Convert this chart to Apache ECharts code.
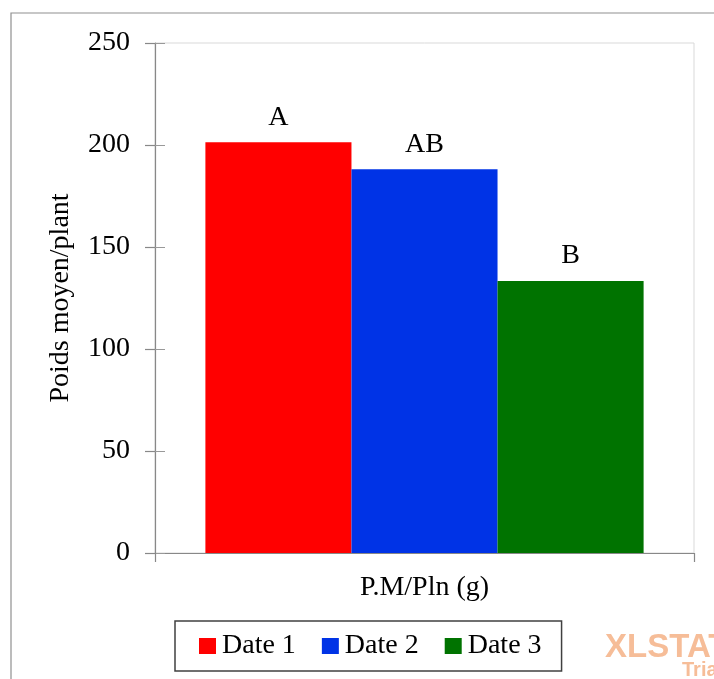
<!DOCTYPE html>
<html>
<head>
<meta charset="utf-8">
<style>
  html, body { margin: 0; padding: 0; background: #fff; }
  #chart { width: 714px; height: 679px; }
</style>
<script src="https://cdn.jsdelivr.net/npm/echarts@6/dist/echarts.min.js"></script>
</head>
<body>
<div id="chart"></div>
<script>
const categories = ['P.M/Pln (g)'];
const seriesNames = ['Date 1', 'Date 2', 'Date 3'];
const seriesValues = [201.3, 188.1, 133.3];
const groupLetters = ['A', 'AB', 'B'];
const seriesColors = ['#ff0000', '#0033e6', '#007300'];
const yTicks = { min: 0, max: 250, interval: 50 };

const FONT = '"Liberation Serif", "Times New Roman", serif';
const chart = echarts.init(document.getElementById('chart'), null, { renderer: 'canvas' });

const series = seriesNames.map((name, i) => ({
  name: name,
  type: 'bar',
  data: [seriesValues[i]],
  itemStyle: { color: seriesColors[i] },
  barGap: '0%',
  barCategoryGap: '18.7%',
  label: {
    show: true,
    position: 'top',
    distance: 11,
    formatter: () => groupLetters[i],
    fontFamily: FONT,
    fontSize: 28,
    color: '#000'
  },
  emphasis: { disabled: true }
}));

chart.setOption({
  animation: false,
  backgroundColor: '#fff',
  graphic: [
    { type: 'rect', shape: { x: 11, y: 13, width: 760, height: 720 },
      style: { fill: 'none', stroke: '#909090', lineWidth: 1.2 }, z: -1 },
    { type: 'text', left: 605, top: 631,
      style: { text: 'XLSTAT', font: 'bold 33px "Liberation Sans", Arial, sans-serif', fill: '#f6bd98' } },
    { type: 'text', left: 682, top: 660,
      style: { text: 'Trial', font: 'bold 20px "Liberation Sans", Arial, sans-serif', fill: '#f6bd98' } }
  ],
  grid: {
    left: 155, right: 20, top: 43, bottom: 126,
    show: true, borderColor: '#d9d9d9', borderWidth: 1, backgroundColor: 'transparent'
  },
  legend: {
    data: seriesNames,
    left: 175, top: 621,
    orient: 'horizontal',
    itemWidth: 17, itemHeight: 16, itemGap: 26,
    icon: 'rect',
    padding: [11, 20, 11, 24],
    borderColor: '#404040', borderWidth: 1.5,
    textStyle: { fontFamily: FONT, fontSize: 28, color: '#000', padding: [0, 0, 0, 1] }
  },
  xAxis: {
    type: 'category',
    data: categories,
    name: categories[0],
    nameLocation: 'middle',
    nameGap: 21,
    nameTextStyle: { fontFamily: FONT, fontSize: 28, color: '#000' },
    axisLine: { show: true, lineStyle: { color: '#888', width: 1.2 } },
    axisTick: { show: true, length: 9, alignWithLabel: false, lineStyle: { color: '#888', width: 1.2 } },
    axisLabel: { show: false }
  },
  yAxis: [
    {
      type: 'value',
      min: yTicks.min, max: yTicks.max, interval: yTicks.interval,
      name: 'Poids moyen/plant',
      nameLocation: 'middle',
      nameGap: 80,
      nameTextStyle: { fontFamily: FONT, fontSize: 28, color: '#000' },
      axisLine: { show: true, lineStyle: { color: '#888', width: 1.2 } },
      axisTick: { show: true, length: 10, lineStyle: { color: '#888', width: 1.2 } },
      axisLabel: { fontFamily: FONT, fontSize: 28, color: '#000', margin: 25 },
      splitLine: { show: false }
    },
    {
      type: 'value',
      position: 'left',
      min: yTicks.min, max: yTicks.max, interval: yTicks.interval,
      axisLine: { show: false },
      axisTick: { show: true, inside: true, length: 10, lineStyle: { color: '#999', width: 1 } },
      axisLabel: { show: false },
      splitLine: { show: false }
    }
  ],
  series: series
});
</script>
</body>
</html>
